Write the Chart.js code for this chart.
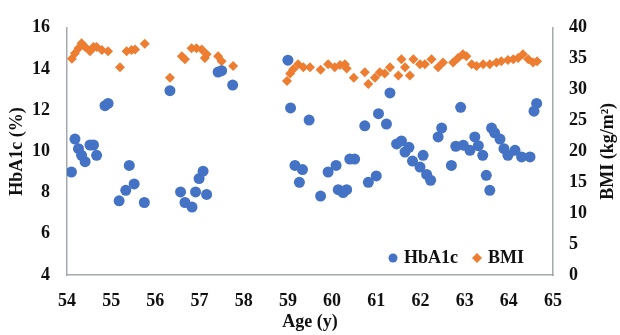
<!DOCTYPE html>
<html>
<head>
<meta charset="utf-8">
<script src="https://cdn.jsdelivr.net/npm/chart.js@4.4.0/dist/chart.umd.min.js"></script>
<style>
  html, body { margin: 0; padding: 0; background: #fff; }
  #wrap { width: 620px; height: 335px; }
</style>
</head>
<body>
<div id="wrap"><canvas id="chart"></canvas></div>
<script>
// ---- datos ----
const edadHbA1c = [54.10, 54.18, 54.26, 54.33, 54.41, 54.52, 54.60, 54.67, 54.86, 54.93,
  55.18, 55.33, 55.41, 55.52, 55.75, 56.33, 56.57, 56.67, 56.83, 56.91, 56.99, 57.08, 57.16,
  57.42, 57.50, 57.75, 59.00, 59.06, 59.16, 59.26, 59.33, 59.48, 59.74, 59.91, 60.09, 60.14,
  60.25, 60.33, 60.40, 60.51, 60.74, 60.82, 61.00, 61.05, 61.23, 61.31, 61.46, 61.57, 61.65,
  61.74, 61.82, 61.99, 62.06, 62.14, 62.23, 62.40, 62.48, 62.70, 62.80, 62.91, 62.97, 63.12,
  63.23, 63.31, 63.41, 63.49, 63.57, 63.61, 63.68, 63.80, 63.89, 63.98, 64.14, 64.29, 64.48,
  64.57, 64.63];
const hba1c = [9.0, 10.6, 10.13, 9.81, 9.5, 10.31, 10.31, 9.81, 12.22, 12.33,
  7.6, 8.11, 9.32, 8.42, 7.52, 12.95, 8.03, 7.52, 7.3, 8.03, 8.68, 9.04, 7.91,
  13.85, 13.92, 13.22, 14.43, 12.11, 9.32, 8.5, 9.12, 11.52, 7.83, 9.0, 9.32, 8.14,
  8.0, 8.14, 9.63, 9.63, 11.24, 8.5, 8.81, 11.83, 11.33, 12.84, 10.36, 10.51, 9.97,
  10.2, 9.53, 9.24, 9.81, 8.88, 8.6, 10.7, 11.13, 9.32, 10.25, 12.14, 10.3, 10.05,
  10.7, 10.28, 9.81, 8.84, 8.11, 11.13, 10.9, 10.6, 10.13, 9.81, 10.05, 9.73, 9.73,
  11.95, 12.33];

const edadBMI = [54.11, 54.18, 54.26, 54.33, 54.41, 54.52, 54.60, 54.67, 54.79, 54.93,
  55.20, 55.35, 55.46, 55.54, 55.76, 56.33, 56.60, 56.67, 56.82, 56.93, 57.05, 57.12, 57.16,
  57.42, 57.50, 57.76, 58.98, 59.05, 59.12, 59.23, 59.35, 59.50, 59.74, 59.91, 60.06, 60.18,
  60.29, 60.33, 60.49, 60.74, 60.82, 60.97, 61.08, 61.19, 61.31, 61.50, 61.57, 61.65, 61.76,
  61.84, 61.99, 62.10, 62.25, 62.40, 62.51, 62.74, 62.85, 62.96, 63.04, 63.16, 63.27, 63.42,
  63.57, 63.72, 63.83, 63.98, 64.10, 64.21, 64.32, 64.44, 64.55, 64.64];
const bmi = [35.0, 35.9, 36.7, 37.5, 36.9, 36.2, 36.9, 36.9, 36.4, 36.2,
  33.6, 36.2, 36.4, 36.5, 37.4, 31.9, 35.4, 34.9, 36.7, 36.7, 36.5, 35.1, 35.7,
  35.4, 34.6, 33.8, 31.4, 32.6, 33.3, 34.1, 33.6, 33.6, 33.2, 34.1, 33.6, 34.0,
  34.1, 33.4, 31.9, 32.8, 30.9, 31.9, 32.8, 32.6, 33.6, 32.3, 34.9, 33.6, 32.3,
  34.9, 34.1, 34.1, 34.9, 33.6, 34.4, 34.4, 35.1, 35.7, 35.4, 34.1, 33.8, 34.1,
  34.1, 34.4, 34.6, 34.8, 34.9, 35.1, 35.7, 34.9, 34.4, 34.6];

const ticksEdad = [54, 55, 56, 57, 58, 59, 60, 61, 62, 63, 64, 65];

const AZUL = '#4472c4';
const NARANJA = '#ed7d31';
const EJE = '#a3a9ad';
const FUENTE = { family: '"Liberation Serif", "Times New Roman", serif', size: 18, weight: 'bold' };

// leyenda dentro del area de datos (abajo a la derecha) + titulo del eje derecho
const leyendaInterna = {
  id: 'leyendaInterna',
  afterDraw(chart) {
    const ctx = chart.ctx;
    const y = chart.chartArea.bottom - 17;
    ctx.save();
    ctx.font = 'bold 18px "Liberation Serif", serif';
    ctx.textBaseline = 'middle';
    let x = 393;
    chart.data.datasets.forEach(ds => {
      ctx.fillStyle = ds.backgroundColor;
      ctx.beginPath();
      if (ds.pointStyle === 'circle') ctx.arc(x, y, 4.5, 0, Math.PI * 2);
      else { ctx.moveTo(x, y - 5); ctx.lineTo(x + 5, y); ctx.lineTo(x, y + 5); ctx.lineTo(x - 5, y); }
      ctx.fill();
      ctx.fillStyle = '#111';
      ctx.fillText(ds.label, x + 11, y);
      x += ctx.measureText(ds.label).width + 30;
    });
    // leido de abajo hacia arriba, como en la figura
    const a = chart.chartArea;
    ctx.translate(608, (a.top + a.bottom) / 2);
    ctx.rotate(-Math.PI / 2);
    ctx.textAlign = 'center';
    ctx.fillText('BMI (kg/m²)', 0, 0);
    ctx.restore();
  }
};

const sinRejilla = { display: false, drawTicks: false };

new Chart(document.getElementById('chart').getContext('2d'), {
  type: 'scatter',
  data: {
    datasets: [
      {
        label: 'HbA1c',
        data: edadHbA1c.map((x, i) => ({ x: x, y: hba1c[i] })),
        yAxisID: 'y',
        pointStyle: 'circle',
        pointRadius: 5.5,
        backgroundColor: AZUL,
        borderColor: AZUL,
        borderWidth: 0
      },
      {
        label: 'BMI',
        data: edadBMI.map((x, i) => ({ x: x, y: bmi[i] })),
        yAxisID: 'y2',
        pointStyle: 'rectRot',
        pointRadius: 5,
        backgroundColor: NARANJA,
        borderColor: NARANJA,
        borderWidth: 0
      }
    ]
  },
  options: {
    responsive: true,
    maintainAspectRatio: false,
    animation: false,
    layout: { padding: { top: 17, left: 0, right: 0, bottom: 0 } },
    plugins: { legend: { display: false }, tooltip: { enabled: false } },
    scales: {
      x: {
        type: 'linear', min: 54, max: 65,
        afterBuildTicks: s => { s.ticks = ticksEdad.map(v => ({ value: v })); },
        afterFit: s => { s.height = 60; },
        ticks: { font: FUENTE, color: '#111', padding: 16 },
        grid: sinRejilla,
        border: { display: true, color: EJE, width: 1.5 },
        title: { display: true, text: 'Age (y)', font: FUENTE, color: '#111', padding: { top: 0, bottom: 2 } }
      },
      y: {
        position: 'left', min: 4, max: 16,
        afterFit: s => { s.width = 67; },
        ticks: { stepSize: 2, font: FUENTE, color: '#111', padding: 17 },
        grid: sinRejilla,
        border: { display: true, color: EJE, width: 1.5 },
        title: { display: true, text: 'HbA1c (%)', font: FUENTE, color: '#111', padding: { top: 7, bottom: 0 } }
      },
      y2: {
        position: 'right', min: 0, max: 40,
        afterFit: s => { s.width = 67; },
        ticks: { stepSize: 5, font: FUENTE, color: '#111', padding: 16 },
        grid: sinRejilla,
        border: { display: true, color: EJE, width: 1.5 }
      }
    }
  },
  plugins: [leyendaInterna]
});
</script>
</body>
</html>
